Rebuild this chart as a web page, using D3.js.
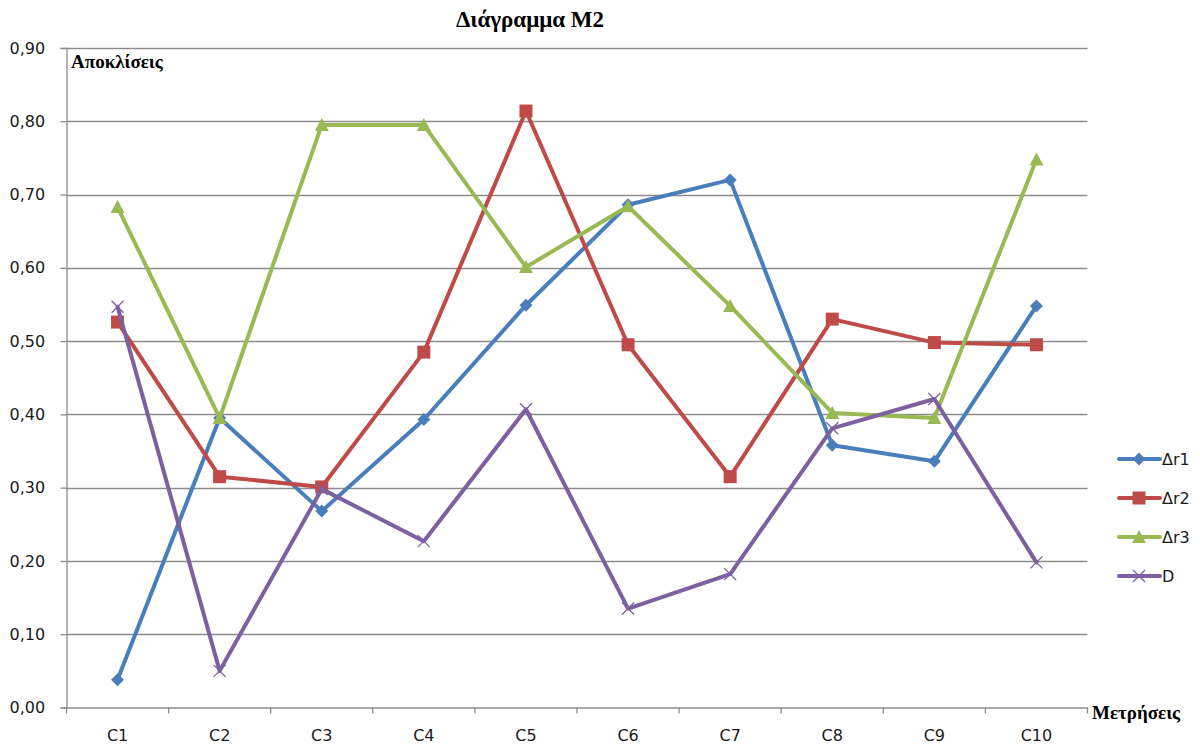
<!DOCTYPE html>
<html>
<head>
<meta charset="utf-8">
<script src="https://cdn.jsdelivr.net/npm/d3@7"></script>
<style>
  html, body { margin: 0; padding: 0; background: #fff; }
  svg { display: block; }
  .serif { font-family: "Liberation Serif", "Times New Roman", "DejaVu Serif", serif; font-weight: bold; }
  .sans { font-family: "DejaVu Sans", Verdana, sans-serif; }
</style>
</head>
<body>
<svg id="chart" width="1200" height="747"></svg>
<script>
// Measurement categories and the four deviation series
const categories = ["C1", "C2", "C3", "C4", "C5", "C6", "C7", "C8", "C9", "C10"];
const dr1 = [0.038, 0.395, 0.268, 0.393, 0.549, 0.686, 0.720, 0.358, 0.336, 0.548];
const dr2 = [0.526, 0.315, 0.301, 0.485, 0.814, 0.495, 0.315, 0.530, 0.498, 0.495];
const dr3 = [0.683, 0.395, 0.795, 0.795, 0.601, 0.684, 0.548, 0.402, 0.395, 0.748];
const dD  = [0.547, 0.050, 0.298, 0.227, 0.407, 0.135, 0.182, 0.381, 0.421, 0.198];
const seriesNames = ["Δr1", "Δr2", "Δr3", "D"];
const yTicks = [0, 0.1, 0.2, 0.3, 0.4, 0.5, 0.6, 0.7, 0.8, 0.9];

const series = [
  { name: seriesNames[0], values: dr1, color: "#4A7EBB", marker: "diamond" },
  { name: seriesNames[1], values: dr2, color: "#BE4B48", marker: "square" },
  { name: seriesNames[2], values: dr3, color: "#98B954", marker: "triangle" },
  { name: seriesNames[3], values: dD,  color: "#7D60A0", marker: "cross" }
];

const svg = d3.select("#chart");
const plot = { left: 66.5, right: 1087.5, top: 48, bottom: 707.5 };

const x = d3.scaleBand().domain(categories).range([plot.left, plot.right]);
const y = d3.scaleLinear().domain([0, 0.9]).range([plot.bottom, plot.top]);
const fmt = v => d3.format(".2f")(v).replace(".", ",");

// Horizontal gridlines
svg.append("g")
  .selectAll("line")
  .data(yTicks.slice(1))
  .join("line")
  .attr("x1", plot.left).attr("x2", plot.right)
  .attr("y1", d => Math.round(y(d)) + 0.5).attr("y2", d => Math.round(y(d)) + 0.5)
  .attr("stroke", "#8c8c8c").attr("stroke-width", 1.3);

// Y axis
const yAxis = svg.append("g")
  .attr("transform", `translate(${plot.left},0)`)
  .call(d3.axisLeft(y).tickValues(yTicks).tickFormat(fmt).tickSize(6).tickPadding(0));
yAxis.select(".domain").attr("stroke", "#8c8c8c").attr("stroke-width", 1.3);
yAxis.selectAll(".tick line").attr("stroke", "#8c8c8c").attr("stroke-width", 1.3);
yAxis.selectAll(".tick text")
  .attr("x", -57).attr("text-anchor", "start")
  .attr("class", "sans").attr("font-family", null)
  .attr("font-size", 16).attr("fill", "#1a1a1a");

// X axis
const xAxis = svg.append("g")
  .attr("transform", `translate(0,${plot.bottom})`)
  .call(d3.axisBottom(x).tickSize(0).tickPadding(0));
xAxis.attr("font-family", null);
yAxis.attr("font-family", null);
xAxis.select(".domain").attr("stroke", "#8c8c8c").attr("stroke-width", 1.3);
xAxis.selectAll(".tick text")
  .attr("y", 22)
  .attr("class", "sans")
  .attr("font-size", 16).attr("fill", "#1a1a1a");
// Tick marks between categories
const bounds = categories.map(c => x(c)).concat([plot.right]);
xAxis.append("g").selectAll("line")
  .data(bounds)
  .join("line")
  .attr("x1", d => d).attr("x2", d => d)
  .attr("y1", 0).attr("y2", 6)
  .attr("stroke", "#8c8c8c").attr("stroke-width", 1.3);

// Titles
svg.append("text")
  .attr("class", "serif")
  .attr("x", 530).attr("y", 27)
  .attr("text-anchor", "middle")
  .attr("font-size", 23)
  .text("Διάγραμμα Μ2");
svg.append("text")
  .attr("class", "serif")
  .attr("x", 71).attr("y", 68)
  .attr("font-size", 19)
  .text("Αποκλίσεις");
svg.append("text")
  .attr("class", "serif")
  .attr("x", 1092).attr("y", 719)
  .attr("font-size", 19)
  .text("Μετρήσεις");

// Marker drawing helper
function drawMarker(g, type, color, cx, cy) {
  if (type === "diamond") {
    g.append("path").attr("d", `M${cx},${cy - 6.5}L${cx + 6.5},${cy}L${cx},${cy + 6.5}L${cx - 6.5},${cy}Z`).attr("fill", color);
  } else if (type === "square") {
    g.append("rect").attr("x", cx - 6.5).attr("y", cy - 6.5).attr("width", 13).attr("height", 13).attr("fill", color);
  } else if (type === "triangle") {
    g.append("path").attr("d", `M${cx},${cy - 7}L${cx + 7},${cy + 6}L${cx - 7},${cy + 6}Z`).attr("fill", color);
  } else {
    g.append("path").attr("d", `M${cx - 6},${cy - 6}L${cx + 6},${cy + 6}M${cx + 6},${cy - 6}L${cx - 6},${cy + 6}`)
      .attr("stroke", color).attr("stroke-width", 1.3).attr("fill", "none");
  }
}

const line = d3.line()
  .x((d, i) => x(categories[i]) + x.bandwidth() / 2)
  .y(d => y(d));

series.forEach(s => {
  const g = svg.append("g");
  g.append("path")
    .attr("d", line(s.values))
    .attr("fill", "none").attr("stroke", s.color)
    .attr("stroke-width", 4).attr("stroke-linejoin", "round").attr("stroke-linecap", "round");
  s.values.forEach((v, i) => drawMarker(g, s.marker, s.color, x(categories[i]) + x.bandwidth() / 2, y(v)));
});

// Legend
const legendY = [459, 498, 537, 576];
series.forEach((s, i) => {
  const g = svg.append("g");
  const ly = legendY[i];
  g.append("line").attr("x1", 1119).attr("x2", 1160).attr("y1", ly).attr("y2", ly)
    .attr("stroke", s.color).attr("stroke-width", 4).attr("stroke-linecap", "round");
  drawMarker(g, s.marker, s.color, 1139, ly);
  g.append("text").attr("class", "sans").attr("x", 1162).attr("y", ly + 6)
    .attr("font-size", 16).attr("fill", "#1a1a1a")
    .text(s.name);
});
</script>
</body>
</html>
